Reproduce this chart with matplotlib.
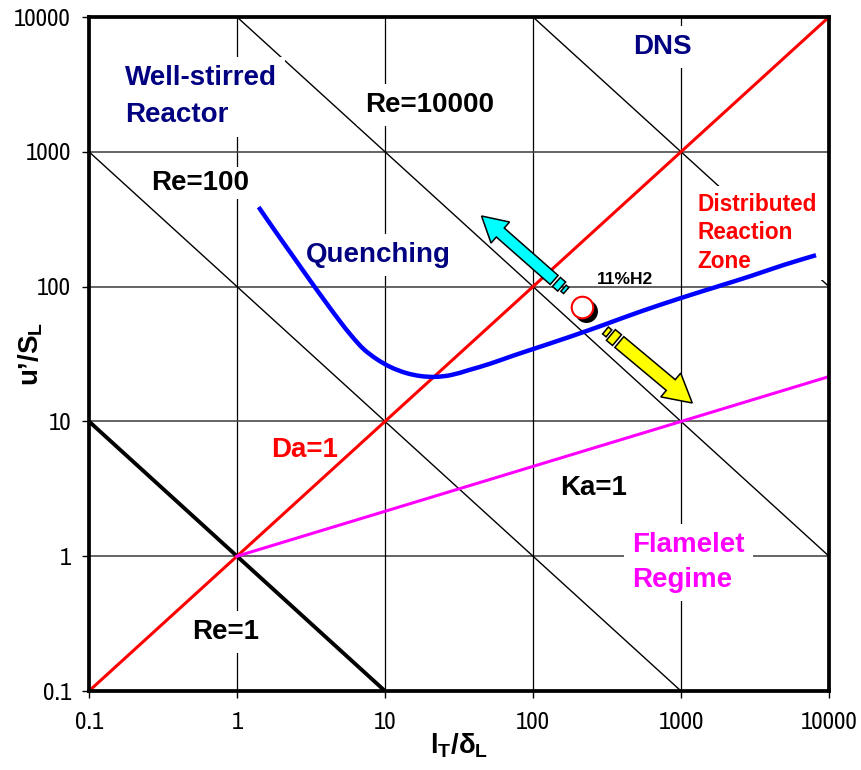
import numpy as np
import matplotlib
matplotlib.use('Agg')
import matplotlib.pyplot as plt
from matplotlib import font_manager, transforms
from matplotlib.patches import Polygon, PathPatch
from matplotlib.path import Path

names = {f.name for f in font_manager.fontManager.ttflist}
SANS = 'Liberation Sans' if 'Liberation Sans' in names else 'DejaVu Sans'
narrow_candidates = sorted(n for n in names if ('Narrow' in n or 'Condensed' in n) and 'Mono' not in n)
if 'Liberation Sans Narrow' in names:
    NARROW = 'Liberation Sans Narrow'
elif narrow_candidates:
    NARROW = narrow_candidates[0]
else:
    NARROW = SANS

plt.rcParams['font.family'] = [SANS, 'DejaVu Sans']
plt.rcParams['mathtext.fontset'] = 'custom'
plt.rcParams['mathtext.rm'] = SANS + ':bold'
plt.rcParams['mathtext.it'] = SANS + ':bold'
plt.rcParams['mathtext.bf'] = SANS + ':bold'

# ---------------- data ----------------
tick_values = [0.1, 1, 10, 100, 1000, 10000]
tick_labels = ['0.1', '1', '10', '100', '1000', '10000']

da_x = [0.1, 10000]
da_y = [0.1, 10000]
ka_x = [1, 10000]
ka_y = [1, 21.5]
re1_x = [0.1, 10]
re1_y = [10, 0.1]
re100_x = [0.1, 1000]
re100_y = [1000, 0.1]
re1e4_x = [1, 10000]
re1e4_y = [10000, 1]
re1e6_x = [100, 10000]
re1e6_y = [10000, 100]

quench_x = [1.40, 1.83, 2.38, 3.10, 3.97, 4.94, 5.95, 7.17, 8.78, 10.9, 13.8, 17.4,
            21.9, 28.1, 37.2, 50.8, 72.6, 100, 176, 299, 522, 1000, 1811, 2977,
            4970, 8170]
quench_y = [389, 254, 169, 112, 76.9, 55.6, 43.0, 34.4, 29.0, 25.3, 22.9, 21.7,
            21.4, 22.1, 24.1, 26.7, 30.6, 34.4, 42.3, 51.9, 64.8, 82.3, 101, 120,
            145, 171]

point_x = [215]
point_y = [70.6]
point_label = '11%H2'

cyan_tail = (139, 112)
cyan_head = (44.9, 334)
yellow_tail = (383, 38.8)
yellow_head = (1191, 13.7)

labels = [
    # text, x, y, color, size, ha, linespacing, pad
    ('Well-stirred\nReactor', 0.175, 2560, '#000080', 20, 'left', 1.55, 0.3),
    ('Re=10000', 20.0, 2225, 'black', 20, 'center', 1.2, 0.3),
    ('Re=100', 0.561, 587, 'black', 20, 'center', 1.2, 0.12),
    ('DNS', 747, 5990, '#000080', 20, 'center', 1.2, 0.3),
    ('Quenching', 9.05, 172, '#000080', 20, 'center', 1.2, 0.3),
    ('Distributed\nReaction\nZone', 1285, 250, '#FF0000', 16.3, 'left', 1.32, 0.3),
    ('Da=1', 2.87, 6.13, '#FF0000', 20, 'center', 1.2, 0.3),
    ('Ka=1', 256, 3.21, 'black', 20, 'center', 1.2, 0.3),
    ('Flamelet\nRegime', 469, 0.90, '#FF00FF', 20, 'left', 1.42, 0.3),
    ('Re=1', 0.84, 0.274, 'black', 20, 'center', 1.2, 0.3),
]

# ---------------- figure ----------------
fig = plt.figure(figsize=(8.61, 7.70), dpi=100)
ax = fig.add_axes([89 / 861, 1 - 691 / 770, (829 - 89) / 861, (691 - 17) / 770])
ax.set_xscale('log')
ax.set_yscale('log')
ax.set_xlim(0.1, 10000)
ax.set_ylim(0.1, 10000)

ax.set_xticks(tick_values)
ax.set_xticklabels(tick_labels)
ax.set_yticks(tick_values)
ax.set_yticklabels(tick_labels)
ax.minorticks_off()
ax.tick_params(direction='out', length=5, width=1, labelsize=17.8)
ax.tick_params(axis='x', pad=10)
ax.tick_params(axis='y', pad=8)
for lab in ax.get_xticklabels() + ax.get_yticklabels():
    lab.set_family(NARROW)

for s in ax.spines.values():
    s.set_linewidth(2.7)
    s.set_zorder(10)

# grid
for v in tick_values[1:-1]:
    ax.axvline(v, color='black', lw=0.9, zorder=0.5)
    ax.axhline(v, color='#4a4a4a', lw=1.2, zorder=0.5)

# Reynolds lines
ax.plot(re1_x, re1_y, color='black', lw=2.8, zorder=2, solid_capstyle='butt')
ax.plot(re100_x, re100_y, color='black', lw=1.0, zorder=2)
ax.plot(re1e4_x, re1e4_y, color='black', lw=1.0, zorder=2)
ax.plot(re1e6_x, re1e6_y, color='black', lw=1.0, zorder=2)

# text labels with white boxes
for txt, x, y, c, sz, ha, ls, pad in labels:
    ax.text(x, y, txt, color=c, fontsize=sz, fontweight='bold', ha=ha, va='center',
            multialignment='left', linespacing=ls, zorder=4,
            bbox=dict(boxstyle='square,pad=%g' % pad, fc='white', ec='none'))

# colored lines
ax.plot(da_x, da_y, color='#FF0000', lw=2.2, zorder=5)
ax.plot(ka_x, ka_y, color='#FF00FF', lw=2.2, zorder=5)


def smooth_path(xs, ys):
    # Catmull-Rom spline through the read points, drawn as cubic Bezier in log space
    P = np.column_stack([np.log10(xs), np.log10(ys)])
    n = len(P)
    verts = [P[0]]
    codes = [Path.MOVETO]
    for i in range(n - 1):
        p0 = P[i - 1] if i > 0 else P[i]
        p1 = P[i]
        p2 = P[i + 1]
        p3 = P[i + 2] if i + 2 < n else P[i + 1]
        c1 = p1 + (p2 - p0) / 6.0
        c2 = p2 - (p3 - p1) / 6.0
        verts += [c1, c2, p2]
        codes += [Path.CURVE4] * 3
    V = 10 ** np.array(verts)
    return Path(V, codes)


ax.add_patch(PathPatch(smooth_path(quench_x, quench_y), fc='none', ec='#0000FF', lw=3.2,
                       zorder=5, capstyle='butt', joinstyle='round'))

# point with shadow
shadow = transforms.offset_copy(ax.transData, fig=fig, x=4, y=-4, units='dots')
ax.plot(point_x, point_y, 'o', ms=15.5, mfc='black', mec='black', transform=shadow, zorder=6)
ax.plot(point_x, point_y, 'o', ms=15.5, mfc='white', mec='#FF0000', mew=1.5, zorder=7)
ax.text(420, 112, point_label, fontsize=12.5, fontweight='bold', ha='center', va='center',
        zorder=7)


def draw_arrow(tail, head, color, body_w, head_w, head_l, pieces):
    T = ax.transData.transform(tail)
    H = ax.transData.transform(head)
    d = H - T
    u = d / np.hypot(*d)
    n = np.array([-u[1], u[0]])
    B = H - u * head_l
    pts = [T + n * body_w / 2, B + n * body_w / 2, B + n * head_w / 2, H,
           B - n * head_w / 2, B - n * body_w / 2, T - n * body_w / 2]
    ax.add_patch(Polygon(pts, closed=True, transform=transforms.IdentityTransform(),
                         fc=color, ec='black', lw=1.1, zorder=8))
    s = 0.0
    for gap, length, width in pieces:
        s += gap
        a = T - u * s
        b = T - u * (s + length)
        pp = [a + n * width / 2, a - n * width / 2, b - n * width / 2, b + n * width / 2]
        ax.add_patch(Polygon(pp, closed=True, transform=transforms.IdentityTransform(),
                             fc=color, ec='black', lw=1.1, zorder=8))
        s += length


draw_arrow(cyan_tail, cyan_head, '#00FFFF', 12, 28, 25, [(3, 7, 12), (2.5, 3.5, 8)])
draw_arrow(yellow_tail, yellow_head, '#FFFF00', 14, 31, 28, [(3, 8, 14), (2.5, 4.5, 9)])

# axis labels
fig.text(459 / 861, 1 - 746 / 770, '$l_T/\\delta_L$', fontsize=20, ha='center', va='center')
fig.text(31 / 861, 1 - 354 / 770, '$u\u2019/S_L$', fontsize=20, ha='center', va='center',
         rotation=90)

fig.savefig('out.png', dpi=100)
